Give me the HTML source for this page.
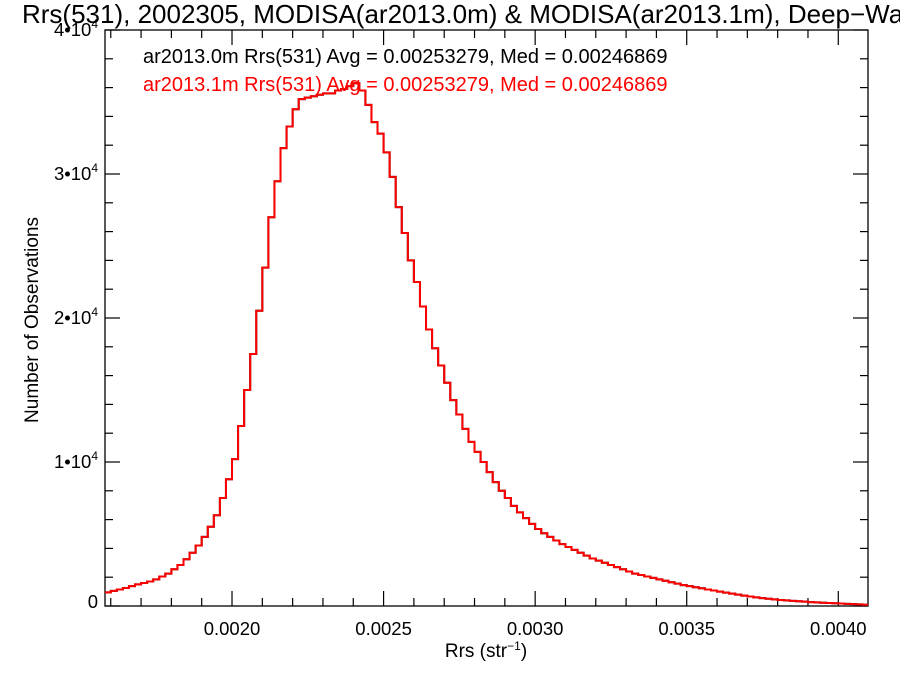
<!DOCTYPE html>
<html><head><meta charset="utf-8"><style>
html,body{margin:0;padding:0;background:#fff;}
svg{display:block;font-family:"Liberation Sans",Helvetica,Arial,sans-serif;}
</style></head><body>
<svg id="chart" width="900" height="675" viewBox="0 0 900 675">
<text x="22" y="23" font-size="26" fill="#000">Rrs(531), 2002305, MODISA(ar2013.0m) &amp; MODISA(ar2013.1m), Deep−Water</text>
<g id="axes"></g>
<g id="series"></g>
<text x="143" y="63" font-size="20" fill="#000">ar2013.0m Rrs(531) Avg = 0.00253279, Med = 0.00246869</text>
<text x="143" y="91" font-size="20" fill="#ff0000">ar2013.1m Rrs(531) Avg = 0.00253279, Med = 0.00246869</text>
<text x="486" y="657" font-size="19" text-anchor="middle">Rrs (str<tspan dy="-7" font-size="12">−1</tspan><tspan dy="7">)</tspan></text>
<text transform="translate(38,320) rotate(-90)" font-size="19" text-anchor="middle">Number of Observations</text>
</svg>
<script>
const binStart = 0.00158;
const binWidth = 0.00002;
const counts = [950,1050,1150,1250,1380,1500,1600,1700,1850,2050,2250,2550,2850,3250,3700,4200,4800,5500,6300,7500,8800,10200,12500,15000,17500,20500,23500,27000,29500,31800,33300,34500,35200,35300,35400,35500,35600,35600,35800,35900,36100,36300,35800,34800,33600,32800,31500,29800,27700,25900,24000,22500,20800,19200,17900,16700,15500,14300,13300,12300,11400,10700,10000,9300,8600,8000,7500,6950,6500,6100,5700,5350,5050,4800,4550,4300,4100,3900,3700,3500,3300,3150,3000,2850,2700,2550,2400,2250,2150,2050,1950,1850,1750,1650,1550,1450,1380,1300,1230,1150,1080,1000,930,860,790,720,660,600,550,500,460,420,390,360,330,300,270,250,230,210,190,170,150,130,110,90];
const xTicks = [0.0020,0.0025,0.0030,0.0035,0.0040];
const xTickLabels = ["0.0020","0.0025","0.0030","0.0035","0.0040"];
const yTicks = [0,10000,20000,30000,40000];
const yTickMant = ["0","1","2","3","4"];

const L=105,R=868,T=30,B=606;
const XMIN=0.001581,XMAX=0.004098,YMIN=0,YMAX=40000;
const NS="http://www.w3.org/2000/svg";
function xs(v){return L+(v-XMIN)/(XMAX-XMIN)*(R-L);}
function ys(v){return B-(v-YMIN)/(YMAX-YMIN)*(B-T);}
function mk(tag,attrs,parent){const e=document.createElementNS(NS,tag);for(const k in attrs)e.setAttribute(k,attrs[k]);parent.appendChild(e);return e;}
const axes=document.getElementById('axes');
const frame=mk('rect',{x:L,y:T,width:R-L,height:B-T,fill:'none',stroke:'#000','stroke-width':1.3},axes);


for(let k=15;k<=41;k++){const v=k*0.0001;if(v<XMIN||v>XMAX)continue;const x=xs(v);const major=(k%5===0);const len=major?15:8;
 const t1=mk('line',{x1:x,x2:x,y1:B,y2:B-len,stroke:'#000','stroke-width':1.2},axes);
 
 
 const t2=mk('line',{x1:x,x2:x,y1:T,y2:T+len,stroke:'#000','stroke-width':1.2},axes);
 
 }
xTicks.forEach((v,i)=>{const t=mk('text',{x:xs(v),y:635,'font-size':18.5,'text-anchor':'middle'},axes);t.textContent=xTickLabels[i];
 
 });
for(let v=0;v<=40000;v+=2000){const y=ys(v);const major=(v%10000===0);const len=major?15:8;
 const a=mk('line',{x1:L,x2:L+len,y1:y,y2:y,stroke:'#000','stroke-width':1.2},axes);
 
 
 const b=mk('line',{x1:R,x2:R-len,y1:y,y2:y,stroke:'#000','stroke-width':1.2},axes);
 
 }
yTicks.forEach((v,i)=>{const y=ys(v);const t=mk('text',{x:98,y:y+(v===0?2:6),'font-size':18.5,'text-anchor':'end'},axes);
 if(v===0){t.textContent='0';}else{t.textContent=yTickMant[i]+'•10';const s=mk('tspan',{dy:-8,'font-size':12},t);s.textContent='4';}
 
 });
function stepPath(){let d='';counts.forEach((c,i)=>{const x0=xs(binStart+i*binWidth),x1=xs(binStart+(i+1)*binWidth),y=ys(c);
 d+=(i===0?'M'+Math.max(L,x0)+','+y:'L'+x0+','+y)+' L'+Math.min(R,x1)+','+y+' ';});return d;}
const ser=document.getElementById('series');
const p0=mk('path',{d:stepPath(),fill:'none',stroke:'#000','stroke-width':2},ser);


const p1=mk('path',{d:stepPath(),fill:'none',stroke:'#ff0000','stroke-width':2},ser);


</script>
</body></html>
